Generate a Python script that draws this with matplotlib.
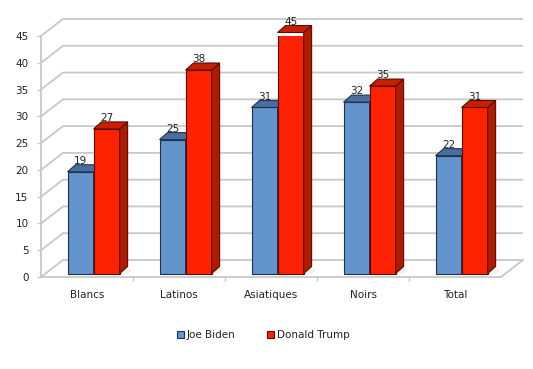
import numpy as np
import matplotlib; matplotlib.use("Agg")
import matplotlib.pyplot as plt
from matplotlib.patches import Polygon, Patch

categories = ["Blancs", "Latinos", "Asiatiques", "Noirs", "Total"]
biden = [19, 25, 31, 32, 22]
trump = [27, 38, 45, 35, 31]
yticks = list(range(0, 50, 5))

BLUE, BLUE_SIDE, BLUE_TOP, BLUE_EDGE = "#6394CC", "#3F618C", "#4A6F9C", "#1C3150"
RED, RED_SIDE, RED_TOP, RED_EDGE = "#FF2200", "#B01A00", "#C81F00", "#5A0C00"
GRID = "#C8C8C8"
TXT = "#222222"

fig = plt.figure(figsize=(5.33, 3.69), dpi=100)
ax = fig.add_axes([41/533, 92/369, 460/533, 241/369])
ax.set_xlim(-0.5, len(categories) - 0.5); ax.set_ylim(0, 45)

wx, wy = 22/92, 17/5.356    # back wall offset (data units)
bx, by = 8/92, 7/5.356      # bar depth
base = 0.65                 # bars sit a bit back on the floor
x = np.arange(len(categories))
xr = len(categories) - 0.5

# side wall + back wall gridlines
for k in yticks:
    ax.plot([-0.5, -0.5 + wx, xr + wx], [k, k + wy, k + wy], color=GRID, lw=1.3,
            clip_on=False, zorder=1, solid_capstyle="butt")
ax.plot([xr, xr + wx], [0, wy], color=GRID, lw=1.3, clip_on=False, zorder=1)

# soft floor shadows
for xi in x:
    ax.add_patch(Polygon([(xi - 0.2, base), (xi + 0.36 + bx, base), (xi + 0.5, base + 0.9),
                          (xi - 0.1, base + 0.9)], fc="#000000", alpha=0.06, ec="none", zorder=2))


def bar3d(xs, vals, w, front, side, top, edge, z):
    rects = ax.bar(xs, vals, w, bottom=base, color=front, edgecolor=edge, lw=0.8, zorder=z)
    for r, v in zip(rects, vals):
        x0, y0 = r.get_x(), r.get_y()
        x1, y1 = x0 + r.get_width(), y0 + r.get_height()
        ax.add_patch(Polygon([(x1, y0), (x1 + bx, y0 + by), (x1 + bx, y1 + by), (x1, y1)],
                             fc=side, ec=edge, lw=0.8, zorder=z, clip_on=False))
        ax.add_patch(Polygon([(x0, y1), (x0 + bx, y1 + by), (x1 + bx, y1 + by), (x1, y1)],
                             fc=top, ec=edge, lw=0.8, zorder=z, clip_on=False))
        ax.text((x0 + x1) / 2, y1 + by + 0.15, str(v), ha="center", va="baseline",
                fontsize=7.5, color=TXT, zorder=10, clip_on=False)


w = 0.283
bar3d(x - 0.07, biden, w, BLUE, BLUE_SIDE, BLUE_TOP, BLUE_EDGE, 3)
bar3d(x + 0.213, trump, w, RED, RED_SIDE, RED_TOP, RED_EDGE, 4)

for s in ("top", "right"):
    ax.spines[s].set_visible(False)
for s in ("left", "bottom"):
    ax.spines[s].set_color(GRID); ax.spines[s].set_linewidth(1.3)

ax.set_yticks(yticks)
ax.set_yticklabels([str(t) for t in yticks], fontsize=7.5, color=TXT)
ax.tick_params(axis="y", length=3, width=1, color=GRID, pad=6)
ax.set_xticks(x)
ax.set_xticklabels(categories, fontsize=7.5, color=TXT)
ax.tick_params(axis="x", which="major", length=0, pad=9)
ax.set_xticks(x[:-1] + 0.5, minor=True)
ax.tick_params(axis="x", which="minor", length=3, width=1, color=GRID)

handles = [Patch(fc=BLUE, ec=BLUE_EDGE, lw=0.8, label="Joe Biden"),
           Patch(fc=RED, ec=RED_EDGE, lw=0.8, label="Donald Trump")]
fig.legend(handles=handles, loc="center", bbox_to_anchor=(263/533, 1 - 335/369), ncol=2,
           frameon=False, fontsize=7.5, handlelength=0.7, handleheight=0.7,
           handletextpad=0.25, columnspacing=3.0, labelcolor=TXT)

fig.savefig("out.png", dpi=100)
